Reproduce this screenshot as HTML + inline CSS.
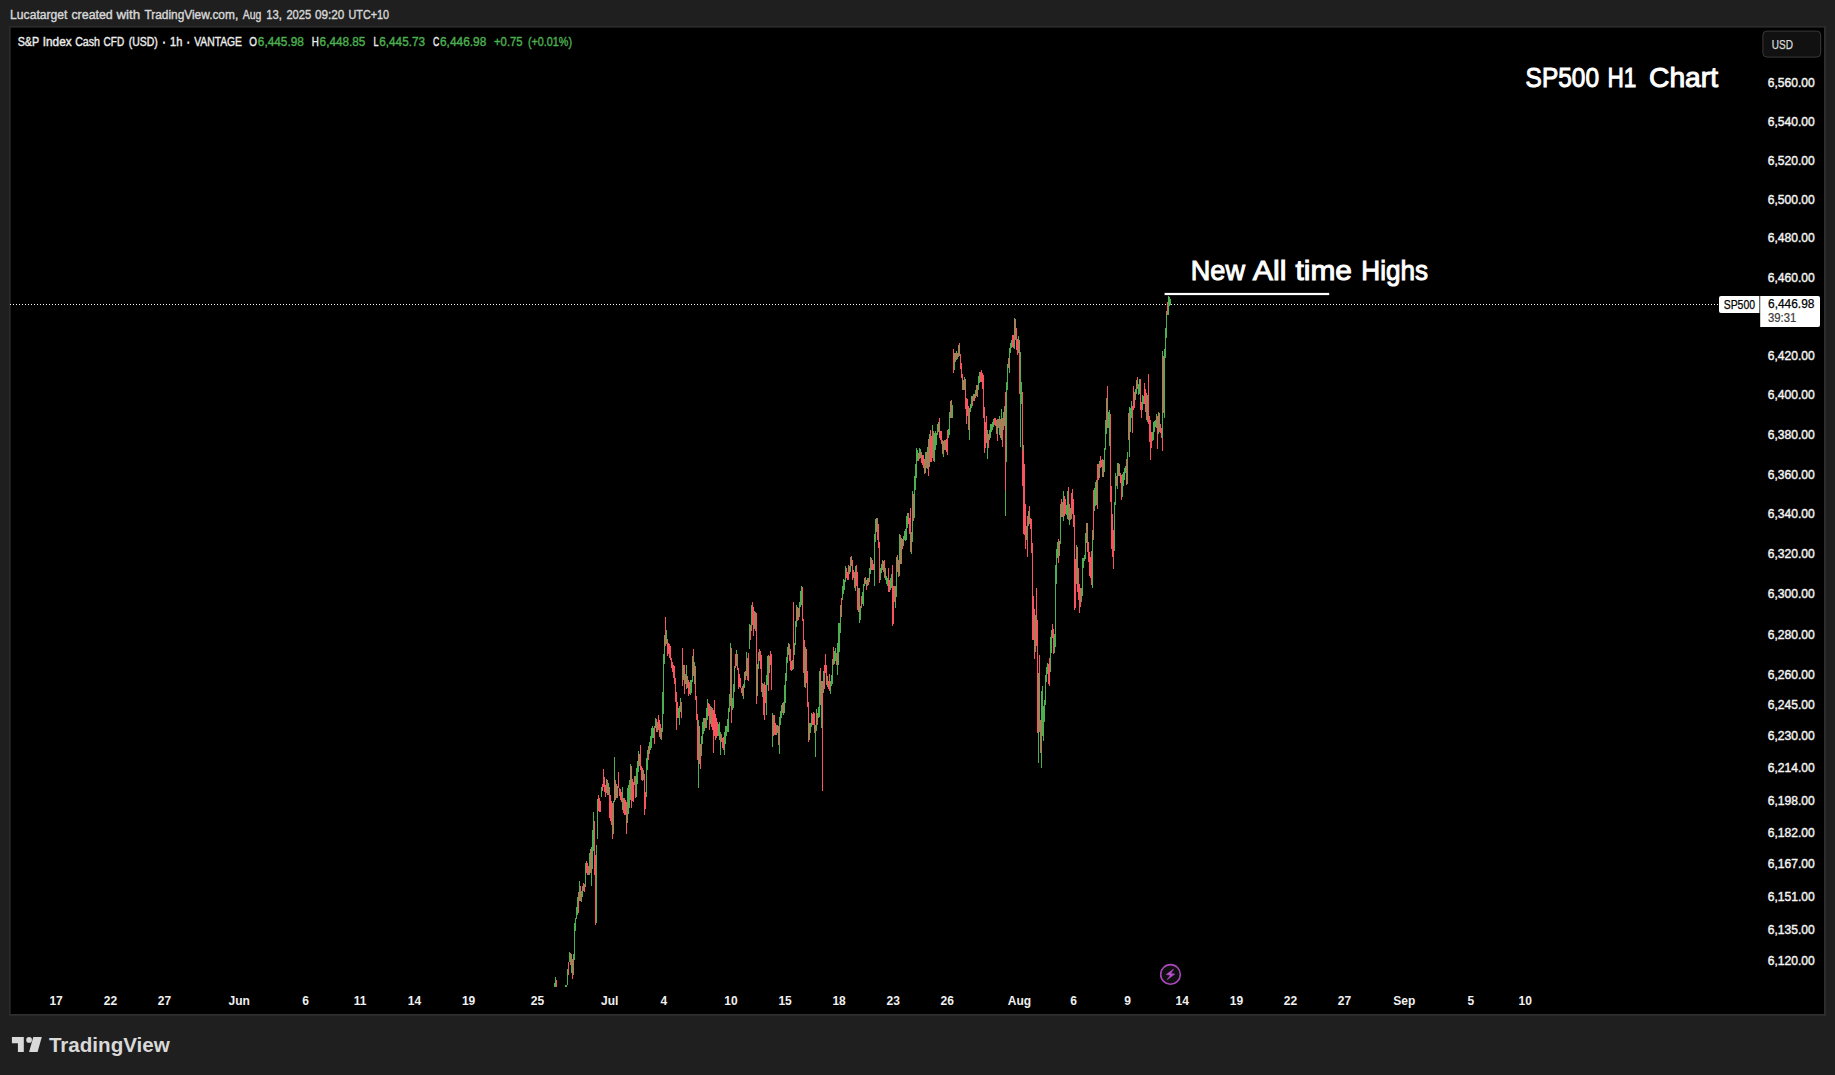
<!DOCTYPE html>
<html lang="en"><head><meta charset="utf-8"><title>SP500 H1 Chart</title>
<style>html,body{margin:0;padding:0;background:#1f1f1f;overflow:hidden}svg{display:block}text{font-family:"Liberation Sans", sans-serif;}</style>
</head><body>
<svg width="1835" height="1075" viewBox="0 0 1835 1075">
<rect width="1835" height="1075" fill="#1f1f1f"/>
<rect x="9.2" y="26.2" width="1816.6" height="989.6" fill="#2e2e2e"/>
<rect x="10.6" y="27.6" width="1813.4" height="986.4" fill="#000"/>
<text x="10.1" y="18.8" font-size="12.3" fill="#d6d6d6" text-anchor="start" font-weight="normal" textLength="57.3" lengthAdjust="spacingAndGlyphs" stroke="#d6d6d6" stroke-width="0.4">Lucatarget</text>
<text x="71.4" y="18.8" font-size="12.3" fill="#d6d6d6" text-anchor="start" font-weight="normal" textLength="41.4" lengthAdjust="spacingAndGlyphs" stroke="#d6d6d6" stroke-width="0.4">created</text>
<text x="116.4" y="18.8" font-size="12.3" fill="#d6d6d6" text-anchor="start" font-weight="normal" textLength="23.7" lengthAdjust="spacingAndGlyphs" stroke="#d6d6d6" stroke-width="0.4">with</text>
<text x="144.4" y="18.8" font-size="12.3" fill="#d6d6d6" text-anchor="start" font-weight="normal" textLength="93.8" lengthAdjust="spacingAndGlyphs" stroke="#d6d6d6" stroke-width="0.4">TradingView.com,</text>
<text x="242.8" y="18.8" font-size="12.3" fill="#d6d6d6" text-anchor="start" font-weight="normal" textLength="18.6" lengthAdjust="spacingAndGlyphs" stroke="#d6d6d6" stroke-width="0.4">Aug</text>
<text x="266.3" y="18.8" font-size="12.3" fill="#d6d6d6" text-anchor="start" font-weight="normal" textLength="15.7" lengthAdjust="spacingAndGlyphs" stroke="#d6d6d6" stroke-width="0.4">13,</text>
<text x="286.4" y="18.8" font-size="12.3" fill="#d6d6d6" text-anchor="start" font-weight="normal" textLength="24.8" lengthAdjust="spacingAndGlyphs" stroke="#d6d6d6" stroke-width="0.4">2025</text>
<text x="315.0" y="18.8" font-size="12.3" fill="#d6d6d6" text-anchor="start" font-weight="normal" textLength="29.4" lengthAdjust="spacingAndGlyphs" stroke="#d6d6d6" stroke-width="0.4">09:20</text>
<text x="348.5" y="18.8" font-size="12.3" fill="#d6d6d6" text-anchor="start" font-weight="normal" textLength="40.6" lengthAdjust="spacingAndGlyphs" stroke="#d6d6d6" stroke-width="0.4">UTC+10</text>
<text x="17.7" y="45.9" font-size="12" fill="#ececec" text-anchor="start" font-weight="normal" textLength="21.5" lengthAdjust="spacingAndGlyphs" stroke="#ececec" stroke-width="0.4">S&amp;P</text>
<text x="42.8" y="45.9" font-size="12" fill="#ececec" text-anchor="start" font-weight="normal" textLength="28.8" lengthAdjust="spacingAndGlyphs" stroke="#ececec" stroke-width="0.4">Index</text>
<text x="75.2" y="45.9" font-size="12" fill="#ececec" text-anchor="start" font-weight="normal" textLength="24.8" lengthAdjust="spacingAndGlyphs" stroke="#ececec" stroke-width="0.4">Cash</text>
<text x="103.6" y="45.9" font-size="12" fill="#ececec" text-anchor="start" font-weight="normal" textLength="20.6" lengthAdjust="spacingAndGlyphs" stroke="#ececec" stroke-width="0.4">CFD</text>
<text x="128.7" y="45.9" font-size="12" fill="#ececec" text-anchor="start" font-weight="normal" textLength="29.1" lengthAdjust="spacingAndGlyphs" stroke="#ececec" stroke-width="0.4">(USD)</text>
<text x="162.4" y="45.9" font-size="12" fill="#ececec" text-anchor="start" font-weight="normal" textLength="3.0" lengthAdjust="spacingAndGlyphs" stroke="#ececec" stroke-width="1.0">·</text>
<text x="170.0" y="45.9" font-size="12" fill="#ececec" text-anchor="start" font-weight="normal" textLength="12.3" lengthAdjust="spacingAndGlyphs" stroke="#ececec" stroke-width="0.4">1h</text>
<text x="186.7" y="45.9" font-size="12" fill="#ececec" text-anchor="start" font-weight="normal" textLength="3.0" lengthAdjust="spacingAndGlyphs" stroke="#ececec" stroke-width="1.0">·</text>
<text x="194.2" y="45.9" font-size="12" fill="#ececec" text-anchor="start" font-weight="normal" textLength="47.8" lengthAdjust="spacingAndGlyphs" stroke="#ececec" stroke-width="0.4">VANTAGE</text>
<text x="249.3" y="45.9" font-size="12" fill="#ececec" text-anchor="start" font-weight="normal" textLength="7.7" lengthAdjust="spacingAndGlyphs" stroke="#ececec" stroke-width="0.4">O</text>
<text x="257.8" y="45.9" font-size="12" fill="#4caf50" text-anchor="start" font-weight="normal" textLength="46.1" lengthAdjust="spacingAndGlyphs" stroke="#4caf50" stroke-width="0.4">6,445.98</text>
<text x="311.7" y="45.9" font-size="12" fill="#ececec" text-anchor="start" font-weight="normal" textLength="7.1" lengthAdjust="spacingAndGlyphs" stroke="#ececec" stroke-width="0.4">H</text>
<text x="319.6" y="45.9" font-size="12" fill="#4caf50" text-anchor="start" font-weight="normal" textLength="45.8" lengthAdjust="spacingAndGlyphs" stroke="#4caf50" stroke-width="0.4">6,448.85</text>
<text x="373.4" y="45.9" font-size="12" fill="#ececec" text-anchor="start" font-weight="normal" textLength="5.0" lengthAdjust="spacingAndGlyphs" stroke="#ececec" stroke-width="0.4">L</text>
<text x="379.3" y="45.9" font-size="12" fill="#4caf50" text-anchor="start" font-weight="normal" textLength="45.7" lengthAdjust="spacingAndGlyphs" stroke="#4caf50" stroke-width="0.4">6,445.73</text>
<text x="433.0" y="45.9" font-size="12" fill="#ececec" text-anchor="start" font-weight="normal" textLength="6.3" lengthAdjust="spacingAndGlyphs" stroke="#ececec" stroke-width="0.4">C</text>
<text x="440.0" y="45.9" font-size="12" fill="#4caf50" text-anchor="start" font-weight="normal" textLength="46.3" lengthAdjust="spacingAndGlyphs" stroke="#4caf50" stroke-width="0.4">6,446.98</text>
<text x="494.0" y="45.9" font-size="12" fill="#4caf50" text-anchor="start" font-weight="normal" textLength="28.6" lengthAdjust="spacingAndGlyphs" stroke="#4caf50" stroke-width="0.4">+0.75</text>
<text x="528.0" y="45.9" font-size="12" fill="#4caf50" text-anchor="start" font-weight="normal" textLength="44.0" lengthAdjust="spacingAndGlyphs" stroke="#4caf50" stroke-width="0.4">(+0.01%)</text>
<rect x="1762.9" y="31.1" width="57.8" height="26" rx="4" fill="#111" stroke="#3a3a3a" stroke-width="1"/>
<text x="1771.8" y="48.7" font-size="12" fill="#dbdbdb" text-anchor="start" font-weight="normal" textLength="21.2" lengthAdjust="spacingAndGlyphs" stroke="#dbdbdb" stroke-width="0.25">USD</text>
<text x="1525.6" y="87.2" font-size="28.3" fill="#fff" text-anchor="start" font-weight="normal" textLength="73.4" lengthAdjust="spacingAndGlyphs" stroke="#fff" stroke-width="1.0">SP500</text>
<text x="1607.5" y="87.2" font-size="28.3" fill="#fff" text-anchor="start" font-weight="normal" textLength="28.9" lengthAdjust="spacingAndGlyphs" stroke="#fff" stroke-width="1.0">H1</text>
<text x="1649.0" y="87.2" font-size="28.3" fill="#fff" text-anchor="start" font-weight="normal" textLength="69.0" lengthAdjust="spacingAndGlyphs" stroke="#fff" stroke-width="1.0">Chart</text>
<text x="1190.8" y="279.5" font-size="28.3" fill="#fff" text-anchor="start" font-weight="normal" textLength="54.2" lengthAdjust="spacingAndGlyphs" stroke="#fff" stroke-width="1.0">New</text>
<text x="1252.8" y="279.5" font-size="28.3" fill="#fff" text-anchor="start" font-weight="normal" textLength="33.7" lengthAdjust="spacingAndGlyphs" stroke="#fff" stroke-width="1.0">All</text>
<text x="1295.5" y="279.5" font-size="28.3" fill="#fff" text-anchor="start" font-weight="normal" textLength="56.5" lengthAdjust="spacingAndGlyphs" stroke="#fff" stroke-width="1.0">time</text>
<text x="1361.3" y="279.5" font-size="28.3" fill="#fff" text-anchor="start" font-weight="normal" textLength="66.7" lengthAdjust="spacingAndGlyphs" stroke="#fff" stroke-width="1.0">Highs</text>
<rect x="1164.6" y="292.9" width="164.6" height="2.2" fill="#fff"/>
<text x="1767.7" y="87.1" font-size="12" fill="#f4f4f4" text-anchor="start" font-weight="normal" textLength="47.1" lengthAdjust="spacingAndGlyphs" stroke="#f4f4f4" stroke-width="0.4">6,560.00</text>
<text x="1767.7" y="126.0" font-size="12" fill="#f4f4f4" text-anchor="start" font-weight="normal" textLength="47.1" lengthAdjust="spacingAndGlyphs" stroke="#f4f4f4" stroke-width="0.4">6,540.00</text>
<text x="1767.7" y="164.9" font-size="12" fill="#f4f4f4" text-anchor="start" font-weight="normal" textLength="47.1" lengthAdjust="spacingAndGlyphs" stroke="#f4f4f4" stroke-width="0.4">6,520.00</text>
<text x="1767.7" y="203.8" font-size="12" fill="#f4f4f4" text-anchor="start" font-weight="normal" textLength="47.1" lengthAdjust="spacingAndGlyphs" stroke="#f4f4f4" stroke-width="0.4">6,500.00</text>
<text x="1767.7" y="241.8" font-size="12" fill="#f4f4f4" text-anchor="start" font-weight="normal" textLength="47.1" lengthAdjust="spacingAndGlyphs" stroke="#f4f4f4" stroke-width="0.4">6,480.00</text>
<text x="1767.7" y="281.6" font-size="12" fill="#f4f4f4" text-anchor="start" font-weight="normal" textLength="47.1" lengthAdjust="spacingAndGlyphs" stroke="#f4f4f4" stroke-width="0.4">6,460.00</text>
<text x="1767.7" y="360.1" font-size="12" fill="#f4f4f4" text-anchor="start" font-weight="normal" textLength="47.1" lengthAdjust="spacingAndGlyphs" stroke="#f4f4f4" stroke-width="0.4">6,420.00</text>
<text x="1767.7" y="399.0" font-size="12" fill="#f4f4f4" text-anchor="start" font-weight="normal" textLength="47.1" lengthAdjust="spacingAndGlyphs" stroke="#f4f4f4" stroke-width="0.4">6,400.00</text>
<text x="1767.7" y="438.6" font-size="12" fill="#f4f4f4" text-anchor="start" font-weight="normal" textLength="47.1" lengthAdjust="spacingAndGlyphs" stroke="#f4f4f4" stroke-width="0.4">6,380.00</text>
<text x="1767.7" y="478.5" font-size="12" fill="#f4f4f4" text-anchor="start" font-weight="normal" textLength="47.1" lengthAdjust="spacingAndGlyphs" stroke="#f4f4f4" stroke-width="0.4">6,360.00</text>
<text x="1767.7" y="517.8" font-size="12" fill="#f4f4f4" text-anchor="start" font-weight="normal" textLength="47.1" lengthAdjust="spacingAndGlyphs" stroke="#f4f4f4" stroke-width="0.4">6,340.00</text>
<text x="1767.7" y="558.1" font-size="12" fill="#f4f4f4" text-anchor="start" font-weight="normal" textLength="47.1" lengthAdjust="spacingAndGlyphs" stroke="#f4f4f4" stroke-width="0.4">6,320.00</text>
<text x="1767.7" y="598.0" font-size="12" fill="#f4f4f4" text-anchor="start" font-weight="normal" textLength="47.1" lengthAdjust="spacingAndGlyphs" stroke="#f4f4f4" stroke-width="0.4">6,300.00</text>
<text x="1767.7" y="638.9" font-size="12" fill="#f4f4f4" text-anchor="start" font-weight="normal" textLength="47.1" lengthAdjust="spacingAndGlyphs" stroke="#f4f4f4" stroke-width="0.4">6,280.00</text>
<text x="1767.7" y="678.9" font-size="12" fill="#f4f4f4" text-anchor="start" font-weight="normal" textLength="47.1" lengthAdjust="spacingAndGlyphs" stroke="#f4f4f4" stroke-width="0.4">6,260.00</text>
<text x="1767.7" y="709.3" font-size="12" fill="#f4f4f4" text-anchor="start" font-weight="normal" textLength="47.1" lengthAdjust="spacingAndGlyphs" stroke="#f4f4f4" stroke-width="0.4">6,245.00</text>
<text x="1767.7" y="740.1" font-size="12" fill="#f4f4f4" text-anchor="start" font-weight="normal" textLength="47.1" lengthAdjust="spacingAndGlyphs" stroke="#f4f4f4" stroke-width="0.4">6,230.00</text>
<text x="1767.7" y="772.0" font-size="12" fill="#f4f4f4" text-anchor="start" font-weight="normal" textLength="47.1" lengthAdjust="spacingAndGlyphs" stroke="#f4f4f4" stroke-width="0.4">6,214.00</text>
<text x="1767.7" y="805.0" font-size="12" fill="#f4f4f4" text-anchor="start" font-weight="normal" textLength="47.1" lengthAdjust="spacingAndGlyphs" stroke="#f4f4f4" stroke-width="0.4">6,198.00</text>
<text x="1767.7" y="836.8" font-size="12" fill="#f4f4f4" text-anchor="start" font-weight="normal" textLength="47.1" lengthAdjust="spacingAndGlyphs" stroke="#f4f4f4" stroke-width="0.4">6,182.00</text>
<text x="1767.7" y="868.0" font-size="12" fill="#f4f4f4" text-anchor="start" font-weight="normal" textLength="47.1" lengthAdjust="spacingAndGlyphs" stroke="#f4f4f4" stroke-width="0.4">6,167.00</text>
<text x="1767.7" y="901.0" font-size="12" fill="#f4f4f4" text-anchor="start" font-weight="normal" textLength="47.1" lengthAdjust="spacingAndGlyphs" stroke="#f4f4f4" stroke-width="0.4">6,151.00</text>
<text x="1767.7" y="933.6" font-size="12" fill="#f4f4f4" text-anchor="start" font-weight="normal" textLength="47.1" lengthAdjust="spacingAndGlyphs" stroke="#f4f4f4" stroke-width="0.4">6,135.00</text>
<text x="1767.7" y="964.7" font-size="12" fill="#f4f4f4" text-anchor="start" font-weight="normal" textLength="47.1" lengthAdjust="spacingAndGlyphs" stroke="#f4f4f4" stroke-width="0.4">6,120.00</text>
<text x="56.1" y="1005.2" font-size="12" fill="#f0f0f0" text-anchor="middle" font-weight="bold">17</text>
<text x="110.5" y="1005.2" font-size="12" fill="#f0f0f0" text-anchor="middle" font-weight="bold">22</text>
<text x="164.5" y="1005.2" font-size="12" fill="#f0f0f0" text-anchor="middle" font-weight="bold">27</text>
<text x="239.2" y="1005.2" font-size="12" fill="#f0f0f0" text-anchor="middle" font-weight="bold">Jun</text>
<text x="305.7" y="1005.2" font-size="12" fill="#f0f0f0" text-anchor="middle" font-weight="bold">6</text>
<text x="360.1" y="1005.2" font-size="12" fill="#f0f0f0" text-anchor="middle" font-weight="bold">11</text>
<text x="414.5" y="1005.2" font-size="12" fill="#f0f0f0" text-anchor="middle" font-weight="bold">14</text>
<text x="468.6" y="1005.2" font-size="12" fill="#f0f0f0" text-anchor="middle" font-weight="bold">19</text>
<text x="537.5" y="1005.2" font-size="12" fill="#f0f0f0" text-anchor="middle" font-weight="bold">25</text>
<text x="609.7" y="1005.2" font-size="12" fill="#f0f0f0" text-anchor="middle" font-weight="bold">Jul</text>
<text x="663.8" y="1005.2" font-size="12" fill="#f0f0f0" text-anchor="middle" font-weight="bold">4</text>
<text x="731.0" y="1005.2" font-size="12" fill="#f0f0f0" text-anchor="middle" font-weight="bold">10</text>
<text x="785.1" y="1005.2" font-size="12" fill="#f0f0f0" text-anchor="middle" font-weight="bold">15</text>
<text x="839.1" y="1005.2" font-size="12" fill="#f0f0f0" text-anchor="middle" font-weight="bold">18</text>
<text x="893.2" y="1005.2" font-size="12" fill="#f0f0f0" text-anchor="middle" font-weight="bold">23</text>
<text x="947.2" y="1005.2" font-size="12" fill="#f0f0f0" text-anchor="middle" font-weight="bold">26</text>
<text x="1019.5" y="1005.2" font-size="12" fill="#f0f0f0" text-anchor="middle" font-weight="bold">Aug</text>
<text x="1073.6" y="1005.2" font-size="12" fill="#f0f0f0" text-anchor="middle" font-weight="bold">6</text>
<text x="1127.6" y="1005.2" font-size="12" fill="#f0f0f0" text-anchor="middle" font-weight="bold">9</text>
<text x="1182.3" y="1005.2" font-size="12" fill="#f0f0f0" text-anchor="middle" font-weight="bold">14</text>
<text x="1236.4" y="1005.2" font-size="12" fill="#f0f0f0" text-anchor="middle" font-weight="bold">19</text>
<text x="1290.4" y="1005.2" font-size="12" fill="#f0f0f0" text-anchor="middle" font-weight="bold">22</text>
<text x="1344.5" y="1005.2" font-size="12" fill="#f0f0f0" text-anchor="middle" font-weight="bold">27</text>
<text x="1404.3" y="1005.2" font-size="12" fill="#f0f0f0" text-anchor="middle" font-weight="bold">Sep</text>
<text x="1470.8" y="1005.2" font-size="12" fill="#f0f0f0" text-anchor="middle" font-weight="bold">5</text>
<text x="1525.2" y="1005.2" font-size="12" fill="#f0f0f0" text-anchor="middle" font-weight="bold">10</text>
<line x1="10" y1="304.5" x2="1718" y2="304.5" stroke="#fff" stroke-width="1.1" stroke-dasharray="1 2"/>
<g transform="translate(0.5,0)" fill="none" stroke-width="1" shape-rendering="crispEdges" opacity="1">
<path stroke="#f9535f" d="M556 980.0V986.6M568 962.0V975.0M570 953.0V965.0M572 959.0V978.6M578 892.0V913.0M580 886.0V901.0M583 883.0V891.0M584 884.0V892.0M586 861.0V873.0M587 862.7V874.8M588 866.0V875.0M590 849.0V873.0M594 821.0V875.0M595 855.0V925.4M598 795.0V811.0M599 797.8V811.7M600 801.0V812.0M602 784.0V791.0M603 769.0V787.0M604 777.1V791.9M605 785.0V797.0M607 780.1V794.9M609 787.0V818.0M610 795.0V820.5M611 801.0V825.0M612 803.0V839.0M615 780.0V800.0M616 783.6V798.4M618 772.0V788.0M619 788.0V796.0M620 788.9V800.1M621 792.0V802.0M623 798.0V813.0M624 797.8V815.2M625 800.0V815.0M626 802.0V834.0M631 766.0V808.0M632 778.5V800.5M633 782.0V802.0M635 776.0V798.0M639 754.0V766.0M640 745.0V770.0M641 766.0V780.0M642 767.5V780.5M644 774.0V815.0M645 792.0V809.0M648 746.0V760.0M654 726.0V744.0M656 718.5V731.5M658 715.0V730.0M659 720.0V737.0M660 723.9V738.6M665 617.0V646.0M667 639.0V656.0M668 643.0V654.0M669 643.8V657.7M670 646.0V660.0M671 658.0V668.0M672 662.0V672.0M673 664.5V677.5M674 666.0V684.0M675 678.0V702.0M676 692.0V730.0M677 702.0V718.0M681 702.0V718.0M682 648.0V686.0M684 665.0V694.0M687 676.0V688.0M688 680.0V696.0M689 682.0V694.0M693 649.0V676.0M695 666.0V700.0M696 696.0V720.0M697 714.0V760.0M699 726.0V764.0M700 744.0V769.0M705 718.0V728.0M708 703.0V716.0M709 704.0V730.0M711 706.9V727.1M712 708.0V730.0M713 710.0V753.0M714 700.0V736.0M715 714.0V740.0M716 718.0V738.0M717 721.6V736.4M721 734.0V742.0M722 738.0V748.0M723 736.8V749.8M731 648.0V723.0M735 654.0V668.0M737 654.0V670.0M738 668.0V689.0M739 674.2V687.2M740 678.0V688.0M741 688.0V693.0M742 686.0V696.0M745 671.0V680.0M747 658.0V680.0M748 653.0V681.0M750 625.0V640.0M752 602.0V625.0M753 607.0V636.0M755 612.0V631.0M756 613.0V704.0M759 649.0V661.0M760 651.0V669.0M761 655.0V692.0M763 684.0V715.0M764 682.0V720.0M765 685.0V703.0M768 655.0V691.0M770 651.0V665.0M771 654.0V690.0M773 715.0V736.0M774 715.0V735.0M775 723.0V735.0M777 725.0V733.0M778 726.0V745.0M782 703.0V713.0M789 644.0V661.0M790 649.0V670.0M791 661.0V671.0M793 602.0V669.0M797 607.0V621.0M798 608.0V620.0M802 587.0V621.0M803 619.0V673.0M804 640.0V687.0M806 649.0V683.0M807 671.0V707.0M808 702.0V742.0M812 714.0V725.0M813 712.0V725.0M814 713.0V733.0M817 713.0V725.0M820 668.0V705.0M822 681.0V791.0M824 665.0V689.0M825 654.0V673.0M826 665.0V685.0M828 681.0V689.0M829 674.0V691.0M833 647.0V665.0M836 653.0V665.0M841 598.0V617.0M846 568.0V578.0M847 572.0V580.0M848 565.0V580.0M851 556.0V566.0M852 560.0V580.0M853 570.0V578.0M854 572.0V588.0M856 565.0V586.0M857 572.0V610.0M858 588.0V612.0M861 596.0V608.0M865 577.0V584.0M866 580.0V590.0M868 578.0V585.0M871 558.0V570.0M872 560.0V570.0M873 564.0V570.0M877 518.0V540.0M878 524.0V548.0M879 542.0V583.0M883 561.0V572.0M884 560.0V578.0M888 568.0V592.0M889 580.0V592.0M892 565.0V626.0M893 586.0V624.0M894 586.0V602.0M897 555.0V572.0M898 560.0V577.0M900 535.0V564.0M902 539.0V549.0M908 513.0V524.0M909 518.0V534.0M910 508.0V552.0M913 494.0V521.0M918 453.0V461.0M921 452.0V463.0M922 455.0V465.0M923 455.0V468.0M924 459.0V474.0M926 452.0V468.0M928 439.0V476.0M930 430.0V462.0M931 436.0V462.0M933 431.0V461.0M939 418.0V438.0M940 431.0V440.0M941 431.0V444.0M942 440.0V454.0M944 440.0V450.0M946 439.0V452.0M947 430.0V455.0M951 400.0V418.0M953 349.0V373.0M955 353.0V362.0M957 353.0V359.0M959 343.0V356.0M960 354.0V369.0M961 363.0V378.0M962 374.0V390.0M965 379.0V409.0M966 398.0V424.0M967 399.0V416.0M968 406.0V430.0M972 396.0V406.0M974 394.0V401.0M977 385.0V397.0M980 372.0V382.0M981 370.0V382.0M982 373.0V389.0M983 375.0V418.0M984 407.0V453.0M985 422.0V448.0M986 416.0V443.0M988 434.0V448.0M994 418.0V425.0M995 418.0V426.0M997 419.0V441.0M998 419.0V428.0M1000 419.0V438.0M1002 418.0V447.0M1005 392.0V491.0M1008 358.0V368.0M1012 335.0V347.0M1013 335.0V348.0M1015 319.0V340.0M1016 328.0V350.0M1017 339.0V355.0M1019 340.0V394.0M1022 392.0V486.0M1023 451.0V534.0M1024 464.0V535.0M1025 504.0V549.0M1027 516.0V557.0M1029 506.0V524.0M1030 518.0V529.0M1031 519.0V553.0M1032 543.0V640.0M1033 596.0V640.0M1034 609.0V659.0M1036 588.0V646.0M1037 620.0V733.0M1039 655.0V732.0M1040 720.0V753.0M1048 664.0V684.0M1049 658.0V686.0M1052 624.0V638.0M1053 629.0V654.0M1058 539.0V563.0M1061 499.0V517.0M1062 502.0V517.0M1064 496.0V516.0M1065 499.0V514.0M1068 487.0V520.0M1071 493.0V519.0M1072 489.0V514.0M1073 499.0V527.0M1074 515.0V610.0M1075 559.0V608.0M1077 547.0V592.0M1078 568.0V600.0M1079 584.0V613.0M1080 588.0V607.0M1087 523.0V552.0M1088 542.0V562.0M1089 552.0V576.0M1090 557.0V578.0M1091 551.0V585.0M1093 490.0V540.0M1097 464.0V509.0M1098 464.0V480.0M1100 456.0V468.0M1101 460.0V467.0M1103 460.0V477.0M1107 386.0V428.0M1110 414.0V502.0M1111 486.0V549.0M1112 514.0V557.0M1113 530.0V569.0M1116 476.0V486.0M1119 464.0V476.0M1120 473.0V483.0M1121 475.0V500.0M1126 459.0V485.0M1128 413.0V440.0M1132 406.0V433.0M1133 386.0V410.0M1134 392.0V408.0M1137 377.0V389.0M1140 379.0V410.0M1141 402.0V418.0M1144 383.0V404.0M1145 389.0V412.0M1146 393.0V420.0M1148 374.0V424.0M1149 416.0V442.0M1150 420.0V460.0M1151 432.0V448.0M1157 416.0V449.0M1159 413.0V432.0M1160 424.0V433.0M1161 428.0V438.0M1162 436.0V451.0M1163 356.0V413.0M1167 302.0V315.0"/>
<path stroke="#4caf50" d="M554 983.0V986.6M555 977.0V986.6M565 985.0V986.6M566 985.0V986.6M567 969.0V985.0M569 952.0V962.0M571 954.0V973.0M573 954.0V975.0M574 923.0V960.0M575 918.0V931.0M576 907.0V919.0M577 897.0V915.0M579 881.0V901.0M581 891.0V902.0M582 886.1V897.4M585 863.0V887.0M589 853.0V875.0M591 847.0V886.0M592 829.5V868.5M593 812.0V851.0M596 845.0V923.0M597 799.0V839.0M601 787.0V797.0M606 779.0V793.0M608 783.0V795.0M613 801.0V834.0M614 757.0V802.0M617 786.0V798.0M622 787.0V810.0M627 788.0V823.0M628 785.1V814.4M629 780.0V808.0M630 764.0V800.0M634 776.0V785.0M636 768.0V797.0M637 760.5V783.5M638 751.0V772.0M643 770.0V780.0M646 758.0V797.0M647 750.0V770.0M649 742.0V754.0M650 735.6V750.4M651 728.0V748.0M652 726.0V738.0M653 728.0V738.0M655 718.0V728.0M657 722.0V732.0M661 728.0V740.0M662 692.0V732.0M663 654.0V714.0M664 635.0V664.0M666 630.0V644.0M678 708.0V718.0M679 706.0V725.0M680 698.0V712.0M683 665.0V680.0M685 674.0V684.0M686 665.0V689.0M690 679.9V694.6M691 680.0V693.0M692 656.0V682.0M694 662.0V684.0M698 720.0V788.0M701 736.0V756.0M702 722.0V744.0M703 718.0V734.0M704 718.0V731.0M706 708.0V728.0M707 699.0V720.0M710 706.0V724.0M718 724.0V736.0M719 722.0V740.0M720 732.0V755.0M724 732.0V755.0M725 726.0V744.0M726 726.0V736.0M727 719.0V732.0M728 708.0V732.0M729 694.0V712.0M730 643.0V706.0M732 698.0V710.0M733 684.0V708.0M734 666.0V692.0M736 650.0V666.0M743 684.0V699.0M744 672.0V688.0M746 652.0V676.0M749 624.0V649.0M751 605.0V631.0M754 611.0V629.0M757 664.0V696.0M758 652.0V669.0M762 683.0V697.0M766 675.0V715.0M767 656.0V685.0M769 656.0V673.0M772 713.0V747.0M776 725.0V735.0M779 717.0V754.0M780 711.0V725.0M781 705.0V718.0M783 702.0V715.0M784 685.0V713.0M785 673.0V703.0M786 657.0V681.0M787 647.0V663.0M788 643.0V655.0M792 660.0V670.0M794 643.0V655.0M795 621.0V645.0M796 605.0V627.0M799 602.0V617.0M800 591.0V607.0M801 586.0V605.0M805 647.0V688.0M809 723.0V740.0M810 723.0V733.0M811 713.0V727.0M815 725.0V757.0M816 709.0V731.0M818 707.0V718.0M819 671.0V717.0M821 681.0V728.0M823 671.0V693.0M827 676.0V687.0M830 681.0V694.0M831 675.0V686.0M832 659.0V684.0M834 651.0V664.0M835 648.0V661.0M837 643.0V675.0M838 623.0V665.0M839 623.0V652.0M840 605.0V633.0M842 586.0V600.0M843 579.0V594.0M844 580.0V590.0M845 566.0V582.0M849 566.0V574.0M850 557.0V572.0M855 566.0V591.0M859 588.0V623.0M860 606.0V620.0M862 592.0V604.0M863 584.0V606.0M864 578.0V586.0M867 578.0V586.0M869 568.0V582.0M870 557.0V574.0M874 534.0V586.0M875 519.0V542.0M876 518.0V532.0M880 568.0V580.0M881 564.0V573.0M882 560.0V570.0M885 568.0V580.0M886 576.0V584.0M887 578.0V586.0M890 578.0V590.0M891 574.0V588.0M895 586.0V608.0M896 557.0V597.0M899 534.0V576.0M901 538.0V564.0M903 536.0V546.0M904 531.0V540.0M905 529.0V541.0M906 516.0V540.0M907 513.0V528.0M911 532.0V554.0M912 491.0V542.0M914 476.0V518.0M915 464.0V490.0M916 448.0V478.0M917 450.0V461.0M919 448.0V459.0M920 449.0V458.0M925 452.0V473.0M927 447.0V469.0M929 434.0V467.0M932 425.0V458.0M934 433.0V462.0M935 431.0V450.0M936 433.0V445.0M937 424.0V435.0M938 422.0V432.0M943 441.0V457.0M945 440.0V450.0M948 429.0V438.0M949 412.0V435.0M950 401.0V418.0M952 405.0V418.0M954 353.0V370.0M956 351.0V360.0M958 345.0V357.0M963 380.0V390.0M964 377.0V390.0M969 408.0V440.0M970 404.0V412.0M971 396.0V408.0M973 394.0V401.0M975 390.0V398.0M976 385.0V396.0M978 376.0V390.0M979 372.0V383.0M987 430.0V459.0M989 430.0V440.0M990 424.0V438.0M991 424.0V432.0M992 422.0V430.0M993 419.0V427.0M996 420.0V434.0M999 416.0V435.0M1001 409.0V440.0M1003 412.0V430.0M1004 406.0V426.0M1005 491.0V516.0M1006 382.0V462.0M1007 364.0V390.0M1009 348.0V373.0M1010 343.0V353.0M1011 340.0V348.0M1014 318.0V349.0M1018 336.0V353.0M1020 352.0V447.0M1021 382.0V404.0M1023 445.0V451.0M1026 526.0V540.0M1028 511.0V526.0M1035 615.0V652.0M1038 673.0V763.0M1041 691.0V768.0M1042 686.0V736.0M1043 706.0V741.0M1044 700.0V722.0M1045 675.0V705.0M1046 667.0V682.0M1047 663.0V674.0M1050 637.0V672.0M1051 630.0V653.0M1054 634.0V653.0M1055 565.0V647.0M1056 549.0V584.0M1057 542.0V558.0M1059 541.0V556.0M1060 504.0V544.0M1063 491.0V521.0M1066 505.0V515.0M1067 491.0V519.0M1069 504.0V525.0M1070 508.0V520.0M1076 545.0V584.0M1081 588.0V602.0M1082 558.0V596.0M1083 558.0V568.0M1084 555.0V561.0M1085 533.0V559.0M1086 523.0V543.0M1092 530.0V588.0M1094 488.0V511.0M1095 482.0V506.0M1096 480.0V505.0M1099 461.0V478.0M1102 459.0V477.0M1104 448.0V472.0M1105 420.0V450.0M1106 398.0V434.0M1108 412.0V428.0M1109 410.0V446.0M1114 502.0V551.0M1115 473.0V505.0M1117 463.0V489.0M1118 463.0V476.0M1122 474.0V497.0M1123 472.0V486.0M1124 468.0V480.0M1125 466.0V473.0M1127 452.0V484.0M1129 407.0V457.0M1130 408.0V432.0M1131 401.0V418.0M1135 389.0V400.0M1136 380.0V394.0M1138 384.0V395.0M1139 379.0V394.0M1142 395.0V410.0M1143 396.0V404.0M1147 395.0V422.0M1152 432.0V441.0M1153 422.0V440.0M1154 421.0V432.0M1155 420.0V427.0M1156 414.0V428.0M1158 412.0V434.0M1162 351.0V438.0M1164 349.0V418.0M1165 328.0V358.0M1166 311.0V338.0M1168 296.0V315.0M1169 297.0V306.0M1170 299.0V305.0"/>
</g>
<path d="M1721 296H1759.4V313H1721a2 2 0 0 1-2-2V298a2 2 0 0 1 2-2z" fill="#fff"/>
<text x="1723.7" y="308.9" font-size="12" fill="#000" text-anchor="start" font-weight="normal" textLength="31.3" lengthAdjust="spacingAndGlyphs" stroke="#000" stroke-width="0.25">SP500</text>
<path d="M1760.2 296H1818a2 2 0 0 1 2 2V325a2 2 0 0 1-2 2H1760.2z" fill="#fff"/>
<text x="1768.0" y="308.0" font-size="12" fill="#000" text-anchor="start" font-weight="normal" textLength="46.4" lengthAdjust="spacingAndGlyphs" stroke="#000" stroke-width="0.25">6,446.98</text>
<text x="1768.0" y="322.0" font-size="12" fill="#3a3a3a" text-anchor="start" font-weight="normal" textLength="28.4" lengthAdjust="spacingAndGlyphs" stroke="#3a3a3a" stroke-width="0.2">39:31</text>
<circle cx="1170.5" cy="974.4" r="9.8" fill="#0f0f0f" stroke="#ab47bc" stroke-width="1.6"/>
<path transform="translate(1170.5,974.4)" d="M3.2 -5.3L-4.3 0.1L-0.2 0.9L-3.4 5.4L4.3 -0.3L0.2 -0.8Z" fill="#ba4fcf" stroke="#ba4fcf" stroke-width="0.5" stroke-linejoin="round"/>
<g fill="#d9d9d9">
<path d="M11.9 1036.9h11.9v15.1h-5.9v-8.8h-6z"/>
<circle cx="29.1" cy="1039.9" r="2.85"/>
<path d="M33.3 1036.9h8.5l-4.2 15.1h-8.5z"/>
</g>
<text x="48.9" y="1052.0" font-size="20" fill="#d9d9d9" text-anchor="start" font-weight="bold" textLength="120.9" lengthAdjust="spacingAndGlyphs">TradingView</text>
</svg></body></html>
